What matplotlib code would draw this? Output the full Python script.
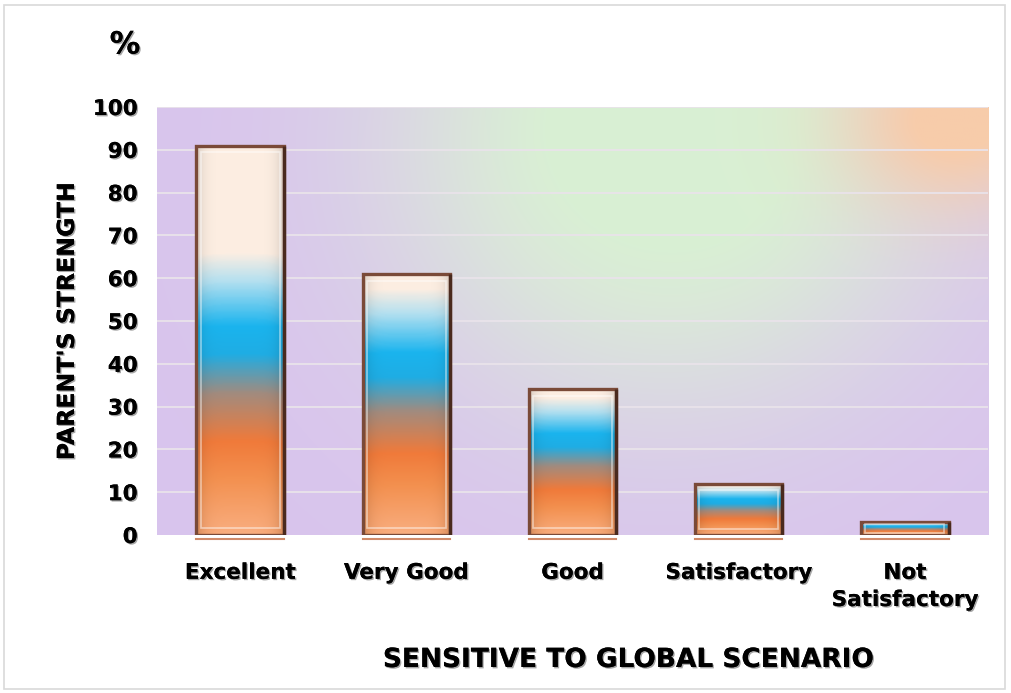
import numpy as np
import matplotlib
matplotlib.use("Agg")
import matplotlib.pyplot as plt
from matplotlib.patches import Rectangle
from matplotlib.colors import LinearSegmentedColormap
import matplotlib.patheffects as pe

categories = ["Excellent", "Very Good", "Good", "Satisfactory", "Not\nSatisfactory"]
values = [91, 61, 34, 12, 3]
yticks = [0, 10, 20, 30, 40, 50, 60, 70, 80, 90, 100]

plt.rcParams['font.family'] = ['DejaVu Sans']

fig = plt.figure(figsize=(10.11, 6.93), dpi=100)
ax = fig.add_axes([0.1553, 0.228, 0.822, 0.6176])

# Background gradient
nx, ny = 400, 200
u = np.linspace(0, 1, nx)[None, :]
v = np.linspace(0, 1, ny)[:, None]
purple = np.array([0.85, 0.77, 0.93])
green = np.array([0.85, 0.94, 0.83])
peach = np.array([0.97, 0.80, 0.67])
gray = np.array([0.87, 0.86, 0.89])
img = np.ones((ny, nx, 3)) * purple
wg = np.clip(1.25 * np.exp(-((u - 0.6) / 0.3) ** 2 - ((v - 0.85) / 0.55) ** 2), 0, 1)
img = img * (1 - wg[..., None]) + gray * wg[..., None]
wgr = np.clip(1.35 * np.exp(-((u - 0.62) / 0.27) ** 2 - ((v - 0.95) / 0.5) ** 2), 0, 1)
img = img * (1 - wgr[..., None]) + green * wgr[..., None]
wp = np.clip(1.15 * np.exp(-((u - 0.96) / 0.13) ** 2 - ((v - 0.97) / 0.2) ** 2), 0, 1)
img = img * (1 - wp[..., None]) + peach * wp[..., None]
ax.imshow(img, extent=[-0.5, 4.5, 0, 100], origin='lower', aspect='auto', zorder=0, interpolation='bilinear')

ax.set_xlim(-0.5, 4.5)
ax.set_ylim(0, 100)
for y in yticks[1:]:
    ax.axhline(y, color='#e9e3ea', lw=1.3, zorder=1)

stops = [(0.0, '#f9ae80'), (0.2, '#f3904f'), (0.33, '#f07a3a'), (0.5, '#a28b7e'),
         (0.64, '#1fade4'), (0.74, '#1ab4ee'), (0.9, '#b4e0f0'), (1.0, '#fdeee2')]
cmap = LinearSegmentedColormap.from_list('bar', stops)

bw = 0.525
for i, h in enumerate(values):
    s = min(1.0, h / 70.0)
    ys = np.linspace(0, h, 300)[:, None]
    xs = np.linspace(-1, 1, 60)[None, :]
    yeff = np.sqrt(ys ** 2 + (6 * s * xs) ** 2 * (xs ** 2))
    t = np.clip(yeff / (66 * s), 0, 1)
    rgb = cmap(t)[..., :3]
    shade = 1 - 0.15 * np.abs(xs) ** 6
    rgb = rgb * shade[..., None]
    x0 = i - bw / 2
    im = ax.imshow(rgb, extent=[x0, x0 + bw, 0, h], origin='lower', aspect='auto', zorder=2,
                   interpolation='bilinear')
    rect = Rectangle((x0, 0), bw, h, facecolor='none', edgecolor='#7a4a38', lw=2.4, zorder=3)
    ax.add_patch(rect)
    im.set_clip_path(rect)
    ax.plot([x0 + bw, x0 + bw], [0, h], color='#4a2a1e', lw=2.4, zorder=3, solid_capstyle='butt')
    inset_x = 0.025
    inset_y = min(1.6, h * 0.12)
    ax.add_patch(Rectangle((x0 + inset_x, inset_y), bw - 2 * inset_x, h - 2 * inset_y,
                           facecolor='none', edgecolor='white', lw=1.2, alpha=0.5, zorder=3))
    ax.plot([x0, x0 + bw], [-0.9, -0.9], color='#d08a6a', lw=1.5, clip_on=False, zorder=3)

for sp in ax.spines.values():
    sp.set_visible(False)
ax.set_xticks(range(len(categories)))
ax.set_xticklabels(categories, fontsize=15.5, fontweight='bold', linespacing=1.45)
ax.set_yticks(yticks)
ax.set_yticklabels([str(y) for y in yticks], fontsize=15.5, fontweight='bold')
ax.tick_params(length=0)
ax.tick_params(axis='y', pad=14)
ax.tick_params(axis='x', pad=20)

shadow = [pe.withSimplePatchShadow(offset=(1, -1), alpha=0.35), pe.Normal()]
for lab in ax.get_xticklabels() + ax.get_yticklabels():
    lab.set_path_effects(shadow)

fig.text(67 / 1011, 1 - 321 / 693, "PARENT'S STRENGTH", rotation=90, fontsize=17, fontweight='bold',
         ha='center', va='center', path_effects=shadow)
fig.text(628 / 1011, 1 - 660 / 693, "SENSITIVE TO GLOBAL SCENARIO", fontsize=19, fontweight='bold',
         ha='center', va='center', path_effects=shadow)
fig.text(125 / 1011, 1 - 45 / 693, "%", fontsize=22, fontweight='bold', ha='center', va='center',
         path_effects=shadow)

fig.patches.append(Rectangle((4 / 1011, 4 / 693), 1001 / 1011, 684 / 693, transform=fig.transFigure,
                             facecolor='none', edgecolor='#d9d9d9', lw=1.2))

fig.savefig('out.png', dpi=100)
